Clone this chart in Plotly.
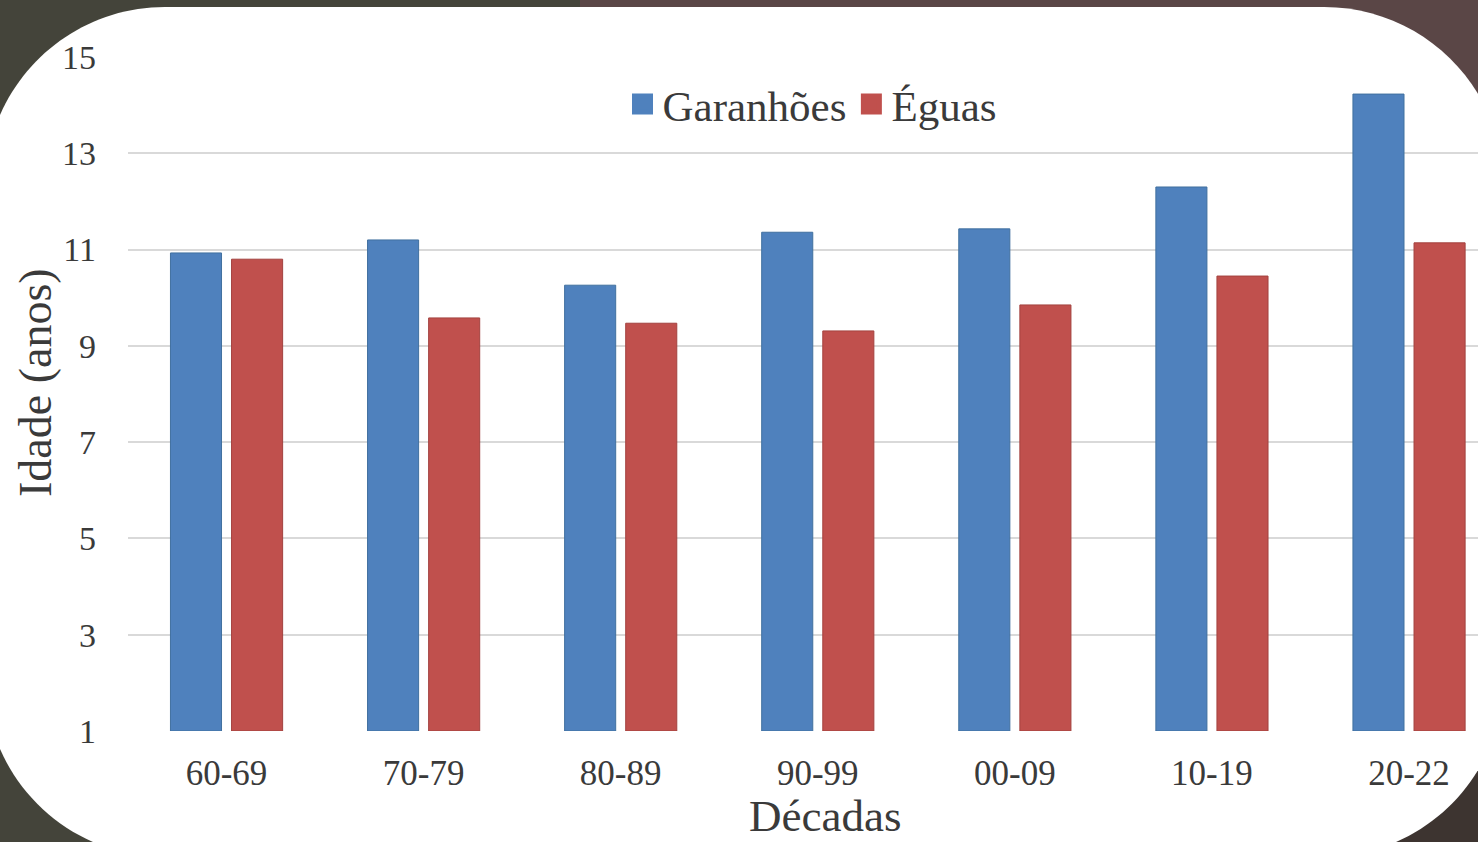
import plotly.graph_objects as go

decadas = ["60-69", "70-79", "80-89", "90-99", "00-09", "10-19", "20-22"]
garanhoes = [10.93, 11.20, 10.26, 11.36, 11.43, 12.30, 14.23]
eguas = [10.80, 9.58, 9.47, 9.31, 9.85, 10.45, 11.14]
y_ticks = [1, 3, 5, 7, 9, 11, 13, 15]

W, H = 1478, 842
ML, MR, MT, MB = 128, 0, 57, 111
PW, PH = W - ML - MR, H - MT - MB


def px(x):
    return (x - ML) / PW


def py(y):
    return (H - MB - y) / PH


def rounded_rect(x0, y0, x1, y1, r):
    k = 0.5523
    pts = [
        f"M {px(x0 + r)} {py(y0)}",
        f"L {px(x1 - r)} {py(y0)}",
        f"C {px(x1 - r + k * r)} {py(y0)} {px(x1)} {py(y0 + r - k * r)} {px(x1)} {py(y0 + r)}",
        f"L {px(x1)} {py(y1 - r)}",
        f"C {px(x1)} {py(y1 - r + k * r)} {px(x1 - r + k * r)} {py(y1)} {px(x1 - r)} {py(y1)}",
        f"L {px(x0 + r)} {py(y1)}",
        f"C {px(x0 + r - k * r)} {py(y1)} {px(x0)} {py(y1 - r + k * r)} {px(x0)} {py(y1 - r)}",
        f"L {px(x0)} {py(y0 + r)}",
        f"C {px(x0)} {py(y0 + r - k * r)} {px(x0 + r - k * r)} {py(y0)} {px(x0 + r)} {py(y0)}",
        "Z",
    ]
    return " ".join(pts)


font_family = "Liberation Serif, Times New Roman, serif"
text_color = "#3a3a3a"
blue, blue_line = "#4F81BD", "#41709F"
red, red_line = "#C0504D", "#A3423F"

fig = go.Figure()
fig.add_trace(go.Bar(
    x=decadas, y=[v - 1 for v in garanhoes], base=1, name="Garanhões", showlegend=False,
    marker=dict(color=blue, line=dict(color=blue_line, width=1)),
))
fig.add_trace(go.Bar(
    x=decadas, y=[v - 1 for v in eguas], base=1, name="Éguas", showlegend=False,
    marker=dict(color=red, line=dict(color=red_line, width=1)),
))
# legend entries with larger square swatches
fig.add_trace(go.Scatter(
    x=[None], y=[None], mode="markers", name="Garanhões",
    marker=dict(symbol="square", size=16, color=blue, line=dict(color=blue, width=5)),
))
fig.add_trace(go.Scatter(
    x=[None], y=[None], mode="markers", name="Éguas",
    marker=dict(symbol="square", size=16, color=red, line=dict(color=red, width=5)),
))

shapes = [
    dict(type="rect", xref="paper", yref="paper", x0=px(-10), x1=px(580), y0=py(-10), y1=py(860),
         fillcolor="#44443a", line=dict(width=0), layer="below"),
    dict(type="rect", xref="paper", yref="paper", x0=px(580), x1=px(1490), y0=py(-10), y1=py(420),
         fillcolor="#5a4646", line=dict(width=0), layer="below"),
    dict(type="rect", xref="paper", yref="paper", x0=px(580), x1=px(1490), y0=py(420), y1=py(860),
         fillcolor="#3d3430", line=dict(width=0), layer="below"),
    dict(type="path", xref="paper", yref="paper", path=rounded_rect(-15, 7, 1504, 857, 180),
         fillcolor="white", line=dict(width=0), layer="below"),
]

annotations = [
    dict(text="Décadas", xref="paper", yref="paper", x=px(825), y=py(816),
         xanchor="center", yanchor="middle", showarrow=False,
         font=dict(size=45, family=font_family, color=text_color)),
    dict(text="Idade (anos)", xref="paper", yref="paper", x=px(35), y=py(383),
         xanchor="center", yanchor="middle", showarrow=False, textangle=-90,
         font=dict(size=46, family=font_family, color=text_color)),
]

fig.update_layout(
    width=W, height=H,
    margin=dict(l=ML, r=MR, t=MT, b=MB, pad=0, autoexpand=False),
    paper_bgcolor="#44443a",
    plot_bgcolor="rgba(0,0,0,0)",
    barmode="group",
    bargap=0.38,
    bargroupgap=0.164,
    shapes=shapes,
    annotations=annotations,
    font=dict(family=font_family, color=text_color, size=34),
    legend=dict(
        orientation="h", x=px(812), y=py(104), xanchor="center", yanchor="middle",
        font=dict(size=43, family=font_family, color=text_color),
        bgcolor="rgba(0,0,0,0)", itemwidth=30, tracegroupgap=0,
    ),
    xaxis=dict(
        type="category", range=[-0.5, 6.35], showgrid=False, showline=False, zeroline=False,
        ticks="", ticklabelstandoff=18, automargin=False,
        tickfont=dict(size=35),
    ),
    yaxis=dict(
        range=[1, 15], tickvals=y_ticks, ticktext=[str(t) for t in y_ticks],
        showgrid=True, gridcolor="#d9d9d9", gridwidth=2, zeroline=False,
        showline=False, ticks="", ticklabelstandoff=31, automargin=False,
        tickfont=dict(size=34),
    ),
    showlegend=True,
)

fig.write_html("out.html", config={"displayModeBar": False},
               post_script="document.body.style.margin='0';")
